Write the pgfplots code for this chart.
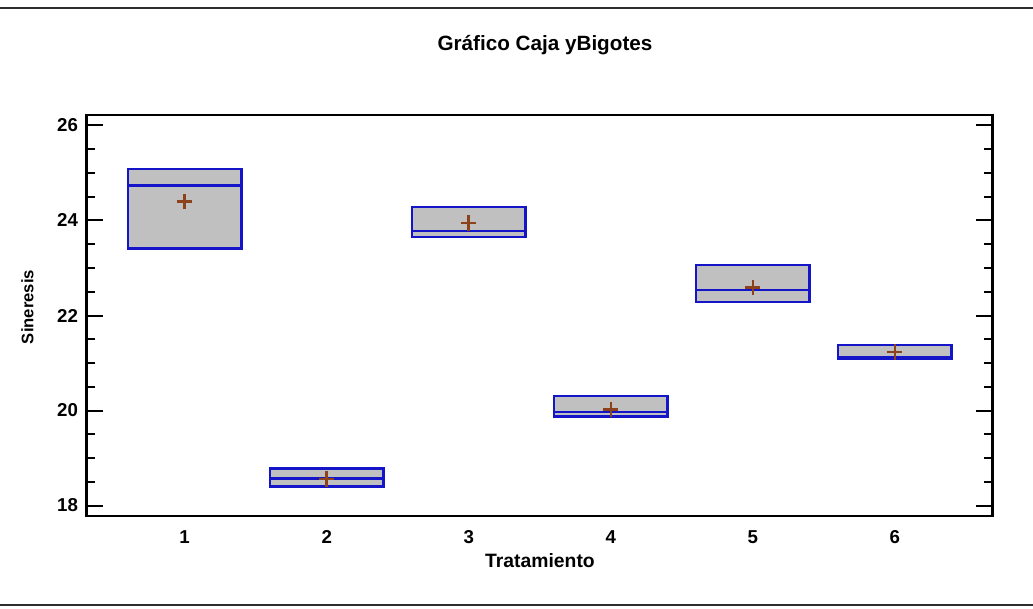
\documentclass[border=0pt]{standalone}
\usepackage{fontspec}
\setmainfont{Liberation Sans}
\usepackage{pgfplots}
\pgfplotsset{compat=1.18}

\definecolor{boxblue}{RGB}{20,20,200}
\definecolor{boxgray}{RGB}{192,192,192}
\definecolor{meanbrown}{RGB}{140,66,26}
\definecolor{rulegray}{RGB}{45,45,45}

% one box per treatment: left edge, right edge, lower quartile, median, upper quartile
\newcommand{\trbox}[5]{%
  \addplot[draw=boxblue, fill=boxgray, line width=1.9pt]
    coordinates {(#1,#3) (#2,#3) (#2,#5) (#1,#5)} -- cycle;
  \addplot[draw=boxblue, line width=1.9pt]
    coordinates {(#1,#4) (#2,#4)};}

\begin{document}
\begin{tikzpicture}
\begin{scope}[x=0.75pt,y=0.75pt]
\useasboundingbox (0,0) rectangle (1033,608);
% frame rules
\draw[rulegray, line width=2.2pt] (0,600) -- (1033,600);
\draw[rulegray, line width=2.2pt] (0,3) -- (1033,3);
% title and axis names
\node[anchor=base, font=\bfseries\fontsize{15.5}{18}\selectfont] at (545,557) {Gráfico Caja yBigotes};
\node[anchor=base, font=\bfseries\fontsize{14.5}{17}\selectfont] at (540,41) {Tratamiento};
\node[rotate=90, font=\bfseries\fontsize{12.5}{15}\selectfont] at (27.5,301) {Sineresis};
\end{scope}

\begin{axis}[
  at={(65.025pt,69pt)}, anchor=south west,
  width=679.5pt, height=300.75pt, scale only axis,
  xmin=0.31, xmax=6.69, ymin=17.78, ymax=26.22,
  xtick={1,2,3,4,5,6},
  ytick={18,20,22,24,26},
  minor y tick num=3,
  tick align=inside,
  xtick pos=bottom, ytick pos=both, yticklabel pos=left,
  xtick style={draw=none},
  ytick style={line width=1.5pt, black},
  major tick length=12.5pt, minor tick length=6.5pt,
  axis line style={line width=1.9pt, black},
  /pgf/number format/assume math mode=true,
  tick label style={font=\bfseries\fontsize{14}{16}\selectfont},
  yticklabel style={xshift=-3pt},
  xticklabel style={yshift=-7.5pt},
]
\trbox{0.6}{1.4}{23.41}{24.74}{25.08}
\trbox{1.6}{2.4}{18.40}{18.57}{18.78}
\trbox{2.6}{3.4}{23.65}{23.78}{24.28}
\trbox{3.6}{4.4}{19.87}{19.97}{20.31}
\trbox{4.6}{5.4}{22.28}{22.54}{23.06}
\trbox{5.6}{6.4}{21.08}{21.13}{21.38}
% means
\addplot[only marks, mark=+, mark size=5.8pt, color=meanbrown, line width=1.8pt]
  coordinates {(1,24.40) (2,18.56) (3,23.95) (4,20.02) (5,22.59) (6,21.23)};
\end{axis}
\end{tikzpicture}
\end{document}
